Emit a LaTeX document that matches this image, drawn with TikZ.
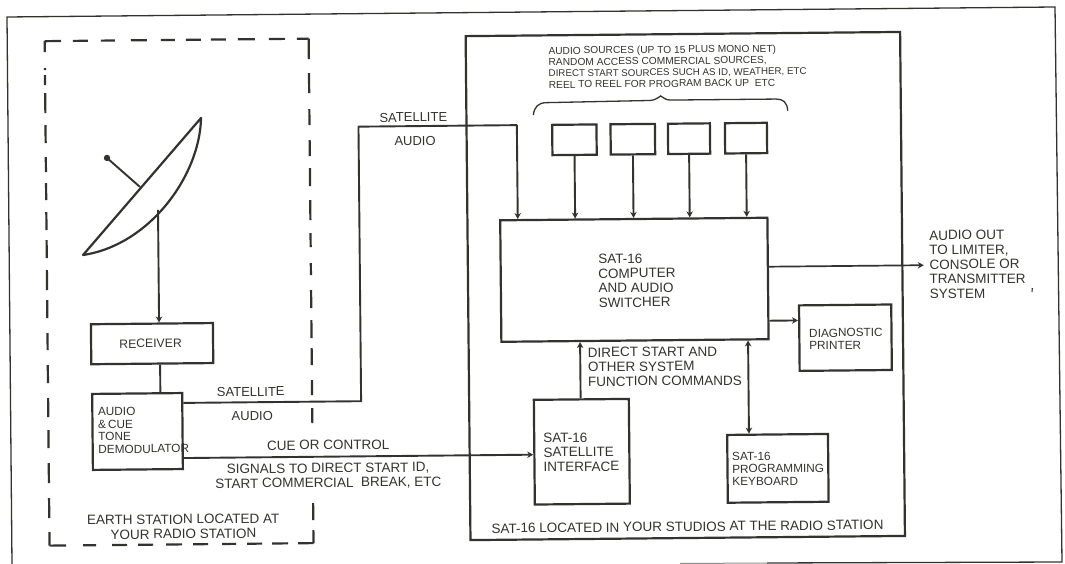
\documentclass[tikz,border=0pt]{standalone}
\usepackage{fontspec}
\setmainfont{Liberation Sans}
\usetikzlibrary{arrows.meta}
\definecolor{ink}{HTML}{33332E}
\tikzset{
  frameline/.style={draw=ink,line width=1.3pt},
  boxnode/.style={draw=ink,line width=2.2pt,rectangle,inner sep=0pt,text=ink},
  wire/.style={draw=ink,line width=1.9pt},
  arrowwire/.style={wire,-{Stealth[length=6pt,width=6.5pt]}},
  bothwire/.style={wire,{Stealth[length=6pt,width=6.5pt]}-{Stealth[length=6pt,width=6.5pt]}},
  dashline/.style={draw=ink,line width=2.2pt},
  txt/.style={inner sep=0pt,text=ink,align=left},
  big/.style={txt,font=\fontsize{13.5}{14.6}\selectfont},
  mid/.style={txt,font=\fontsize{11.8}{12.5}\selectfont},
  tiny/.style={txt,font=\fontsize{10.2}{11.3}\selectfont},
}
\begin{document}
\begin{tikzpicture}[x=1pt,y=-1pt]
\useasboundingbox (0,0) rectangle (1065,564);
\fill[white] (0,0) rectangle (1065,564);
% outer frame (in screen coordinates)
\draw[frameline,line join=miter] (12,564) -- (7,17) -- (1055,7) -- (1062,562) -- (767,563);
\draw[draw=ink!55,line width=1pt] (767,563) -- (680,563.5);
\draw[draw=ink,line width=1.1pt] (1032.3,288) -- (1032,292);
\begin{scope}[rotate around={0.55:(532,282)},transform shape]
% studio box
\draw[draw=ink,line width=2.2pt] (468,35.5) rectangle (902.5,539.5);
% dashed earth station outline
\foreach \a/\b in {36.5/47.4,63.4/65.4,70.4/80.4,88.4/108.4,120.4/138.4,152.4/167.4,178.4/195.4,207.4/225.4,235.4/253.4,265.4/285.4,295.4/313.4,328.4/345.4,360.4/378.4,393.4/412.4,425.4/443.4,458.4/478.4,493.4/513.4,527.4/541}
  \draw[dashline] (47,\a) -- (47,\b);
\foreach \a/\b in {36.5/57,71/91,107/123,138/154,166/184,198/218,231/245,261/273,288/306,318/336,346/363,378/393,406/421,501/518,528/541}
  \draw[dashline] (311,\a) -- (311,\b);
\foreach \a/\b in {47/63.3,75.3/90.3,103.3/117.3,133.3/149.3,163.3/177.3,188.3/203.3,213.3/228.3,240.3/257.3,271.3/287.3,299.3/311}
  \draw[dashline] (\a,36.5) -- (\b,36.5);
\foreach \a/\b in {47/63.5,80.5/93.5,109.5/124.5,135.5/150.5,163.5/179.5,190.5/205.5,219.5/233.5,244.5/259.5,269.5/285.5,295.5/311}
  \draw[dashline] (\a,541) -- (\b,541);
% dish
\draw[draw=ink,line width=2.2pt,line join=round] (202.6,114.8) -- (83.3,250.7) .. controls (150.4,241.3) and (201,171.8) .. (202.6,114.8) -- cycle;
\coordinate (feedtop) at (108.2,153.9);
\coordinate (feedbase) at (140.9,183.2);
\coordinate (dishfoot) at (158.7,206.4);
\draw[wire] (feedtop) -- (feedbase);
\fill[ink] (feedtop) circle (3.2pt);
% boxes
\node[boxnode,minimum width=122pt,minimum height=40pt] (rec) at (151.5,340) {};
\node[big,font=\fontsize{12.2}{14}\selectfont] (rectxt) at (150,340) {RECEIVER};
\node[boxnode,minimum width=90pt,minimum height=76pt] (dem) at (136.1,427.7) {};
\node[mid,anchor=west] (demtxt) at (96.6,426.5) {AUDIO\\\&\,CUE\\TONE\\DEMODULATOR};
\node[boxnode,minimum width=267.2pt,minimum height=121.5pt] (comp) at (634.4,280.75) {};
\node[big,anchor=west] (comptxt) at (598.3,281.5) {SAT-16\\COMPUTER\\AND AUDIO\\SWITCHER};
\node[boxnode,minimum width=44.3pt,minimum height=30.3pt] (srca) at (575.8,140.2) {};
\node[boxnode,minimum width=44.4pt,minimum height=30.3pt] (srcb) at (634.2,140.2) {};
\node[boxnode,minimum width=42pt,minimum height=30.3pt] (srcc) at (690.4,140.2) {};
\node[boxnode,minimum width=42pt,minimum height=30.3pt] (srcd) at (747.4,140.2) {};
\node[boxnode,minimum width=95pt,minimum height=104.7pt] (ifc) at (580.2,452.2) {};
\node[big,anchor=west] (ifctxt) at (541.7,452.5) {SAT-16\\SATELLITE\\INTERFACE};
\node[boxnode,minimum width=100.8pt,minimum height=67.8pt] (kbd) at (776.1,470.7) {};
\node[mid,anchor=west] (kbdtxt) at (730.3,471) {SAT-16\\PROGRAMMING\\KEYBOARD};
\node[boxnode,minimum width=92.2pt,minimum height=65.5pt] (prn) at (844.9,340.7) {};
\node[mid,anchor=west] (prntxt) at (808.5,342) {DIAGNOSTIC\\PRINTER};
% connectors
\draw[arrowwire] (dishfoot) -- (dishfoot |- rec.north);
\draw[wire] (rec.south -| 159.3,0) -- (dem.north -| 159.3,0);
\coordinate (satleft) at (dem.east |- 0,399.6);
\coordinate (satmid) at (360,399.6);
\coordinate (sattop) at (360,125);
\coordinate (satright) at (518.4,125);
\draw[arrowwire,line join=round] (satleft) -- (satmid) -- (sattop) -- (satright) -- (satright |- comp.north);
\draw[arrowwire] (dem.east |- 0,454.7) -- (ifc.west |- 0,454.7);
\foreach \s in {srca,srcb,srcc,srcd}
  \draw[arrowwire] (\s.south) -- (\s.south |- comp.north);
\draw[arrowwire] (ifc.north -| 579.5,0) -- (comp.south -| 579.5,0);
\draw[bothwire] (comp.south -| 747.5,0) -- (kbd.north -| 747.5,0);
\draw[arrowwire] (comp.east |- 0,323) -- (prn.west |- 0,323);
\coordinate (outend) at (924,269);
\draw[arrowwire,line width=1.7pt] (comp.east |- outend) -- (outend);
% brace
\coordinate (bl) at (535,115);
\coordinate (br) at (789.4,113.2);
\coordinate (bp) at (662.5,97.2);
\draw[draw=ink,line width=1.3pt] (bl) .. controls (536,107) and (540,102.8) .. (548,102.8) -- (652,101.6) .. controls (656,101.5) and (660,99) .. (bp) .. controls (665,99) and (668,101.4) .. (672,101.4) -- (778,101.4) .. controls (785,101.4) and (789,105) .. (br);
% labels
\node[tiny,anchor=west] (srctxt) at (550.5,67.8) {AUDIO SOURCES (UP TO 15 PLUS MONO NET)\\RANDOM ACCESS COMMERCIAL SOURCES,\\{\fontsize{9.75}{11.3}\selectfont DIRECT START SOURCES SUCH AS ID, WEATHER, ETC}\\REEL TO REEL FOR PROGRAM BACK UP\ \ ETC};
\node[big,font=\fontsize{13}{14}\selectfont] (sat1) at (414.9,116.2) {SATELLITE};
\node[big,font=\fontsize{13}{14}\selectfont] (aud1) at (416.4,139.6) {AUDIO};
\node[big,font=\fontsize{13}{14}\selectfont] (sat2) at (249.7,389) {SATELLITE};
\node[big,font=\fontsize{13}{14}\selectfont] (aud2) at (251,413) {AUDIO};
\node[big] (cue) at (326.7,443) {CUE OR CONTROL};
\node[big,align=center] (sig) at (326.3,474.2) {SIGNALS TO DIRECT START ID,\\START COMMERCIAL\ \ BREAK, ETC};
\node[big,align=center] (earth) at (181,523.3) {EARTH STATION LOCATED AT\\YOUR RADIO STATION};
\node[big] (loc) at (685.2,528.2) {SAT-16 LOCATED IN YOUR STUDIOS AT THE RADIO STATION};
\node[big,anchor=west] (dir) at (587,367.7) {DIRECT START AND\\OTHER SYSTEM\\FUNCTION COMMANDS};
\node[big,anchor=west] (aout) at (929.5,268.5) {AUDIO OUT\\TO LIMITER,\\CONSOLE OR\\TRANSMITTER\\SYSTEM};
\end{scope}
\end{tikzpicture}
\end{document}
